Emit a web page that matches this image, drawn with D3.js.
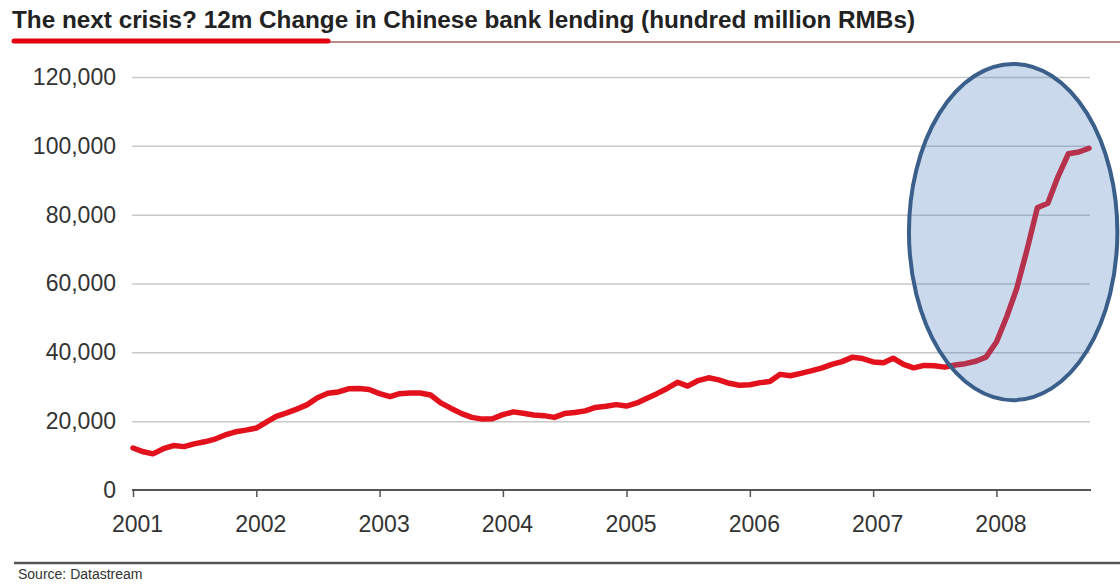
<!DOCTYPE html>
<html>
<head>
<meta charset="utf-8">
<script src="https://cdn.jsdelivr.net/npm/d3@7"></script>
<style>
  html, body { margin: 0; padding: 0; background: #fff; }
  svg { display: block; font-family: "Liberation Sans", Arial, sans-serif; }
</style>
</head>
<body>
<div id="chart"></div>
<script>
// Monthly observations, Jan 2001 .. Oct 2008
const startMonth = "2001-01-01";
const lending = [
  12200, 11100, 10500, 12000, 12900, 12600, 13400, 14000, 14800, 16000, 16900, 17400,
  18000, 19800, 21400, 22400, 23500, 24800, 26800, 28100, 28500, 29400, 29500, 29200,
  28000, 27100, 28000, 28200, 28200, 27600, 25300, 23700, 22200, 21100, 20600, 20700,
  21900, 22700, 22300, 21800, 21600, 21100, 22200, 22500, 23000, 24000, 24350, 24800,
  24400, 25300, 26600, 28000, 29500, 31300, 30200, 31800, 32600, 32000, 31000, 30450,
  30600, 31200, 31500, 33600, 33200, 33900, 34600, 35400, 36500, 37300, 38600, 38200,
  37200, 37000, 38300, 36500, 35500, 36200, 36100, 35700, 36300, 36700, 37400, 38600,
  43000, 50500, 58500, 70000, 82000, 83300, 91000, 97700, 98200, 99300
];
const yTicks = [0, 20000, 40000, 60000, 80000, 100000, 120000];
const yearTicks = [2001, 2002, 2003, 2004, 2005, 2006, 2007, 2008];
const highlight = {from: "2007-04-17", to: "2008-12-24", low: 26100, high: 123800};

const title = "The next crisis? 12m Change in Chinese bank lending (hundred million RMBs)";
const source = "Source: Datastream";

const width = 1120;
const height = 584;

const parse = d3.timeParse("%Y-%m-%d");
const t0 = parse(startMonth);
const data = lending.map((v, i) => ({date: d3.timeMonth.offset(t0, i), value: v}));

const x = d3.scaleTime()
    .domain([parse("2001-01-01"), parse("2008-10-01")])
    .range([133, 1089]);

const y = d3.scaleLinear()
    .domain([0, 120000])
    .range([490, 77]);

const svg = d3.select("#chart")
  .append("svg")
    .attr("width", width)
    .attr("height", height)
    .attr("viewBox", [0, 0, width, height]);

// Title and rule underneath
svg.append("text")
    .attr("x", 12)
    .attr("y", 28)
    .attr("font-size", 23)
    .attr("font-weight", "bold")
    .attr("fill", "#222")
    .attr("textLength", 903)
    .attr("lengthAdjust", "spacingAndGlyphs")
    .text(title);

svg.append("line")
    .attr("x1", 12).attr("x2", width)
    .attr("y1", 42).attr("y2", 42)
    .attr("stroke", "#a86464")
    .attr("stroke-width", 1.5);

svg.append("line")
    .attr("x1", 14).attr("x2", 328)
    .attr("y1", 41).attr("y2", 41)
    .attr("stroke", "#e3000f")
    .attr("stroke-width", 5)
    .attr("stroke-linecap", "round");

// Gridlines + y labels
const yAxis = svg.append("g")
    .attr("transform", `translate(${x.range()[0] - 1},0)`)
    .call(d3.axisLeft(y).tickValues(yTicks).tickFormat(d3.format(",")).tickSize(0).tickPadding(16))
    .call(g => g.select(".domain").remove());

yAxis.selectAll(".tick text")
    .attr("font-size", 23)
    .attr("fill", "#333")
    .attr("font-family", "Liberation Sans, Arial, sans-serif");

yAxis.selectAll(".tick")
    .filter(d => d !== 0)
    .append("line")
    .attr("x2", x.range()[1] - x.range()[0] + 2)
    .attr("stroke", "#c8c8c8")
    .attr("stroke-width", 1.5);

// x axis
const xAxis = svg.append("g")
    .attr("transform", `translate(0,${y(0)})`)
    .call(d3.axisBottom(x)
        .tickValues(yearTicks.map(yr => new Date(yr, 0, 1)))
        .tickFormat(d3.timeFormat("%Y"))
        .tickSize(7)
        .tickSizeOuter(0)
        .tickPadding(19));

xAxis.select(".domain")
    .attr("stroke", "#555")
    .attr("stroke-width", 2)
    .attr("d", `M${x.range()[0] - 1},0H${x.range()[1] + 2}`);
xAxis.selectAll(".tick line").attr("stroke", "#555").attr("stroke-width", 1.5);
xAxis.selectAll(".tick text")
    .attr("font-size", 23)
    .attr("fill", "#333")
    .attr("dx", 4)
    .attr("font-family", "Liberation Sans, Arial, sans-serif");

// The series
svg.append("path")
    .datum(data)
    .attr("fill", "none")
    .attr("stroke", "#e2111c")
    .attr("stroke-width", 5.5)
    .attr("stroke-linejoin", "round")
    .attr("stroke-linecap", "round")
    .attr("d", d3.line().x(d => x(d.date)).y(d => y(d.value)));

// Highlight ellipse over the 2008 surge
const ex0 = x(parse(highlight.from)), ex1 = x(parse(highlight.to));
const ey0 = y(highlight.high), ey1 = y(highlight.low);
svg.append("ellipse")
    .attr("cx", (ex0 + ex1) / 2)
    .attr("cy", (ey0 + ey1) / 2)
    .attr("rx", (ex1 - ex0) / 2)
    .attr("ry", (ey1 - ey0) / 2)
    .attr("fill", "rgb(79,129,189)")
    .attr("fill-opacity", 0.3)
    .attr("stroke", "#3a5f8b")
    .attr("stroke-width", 4);

// Footer
svg.append("line")
    .attr("x1", 14).attr("x2", width)
    .attr("y1", 563).attr("y2", 563)
    .attr("stroke", "#555")
    .attr("stroke-width", 2.5);

svg.append("text")
    .attr("x", 18)
    .attr("y", 579)
    .attr("font-size", 14)
    .attr("fill", "#333")
    .text(source);
</script>
</body>
</html>
